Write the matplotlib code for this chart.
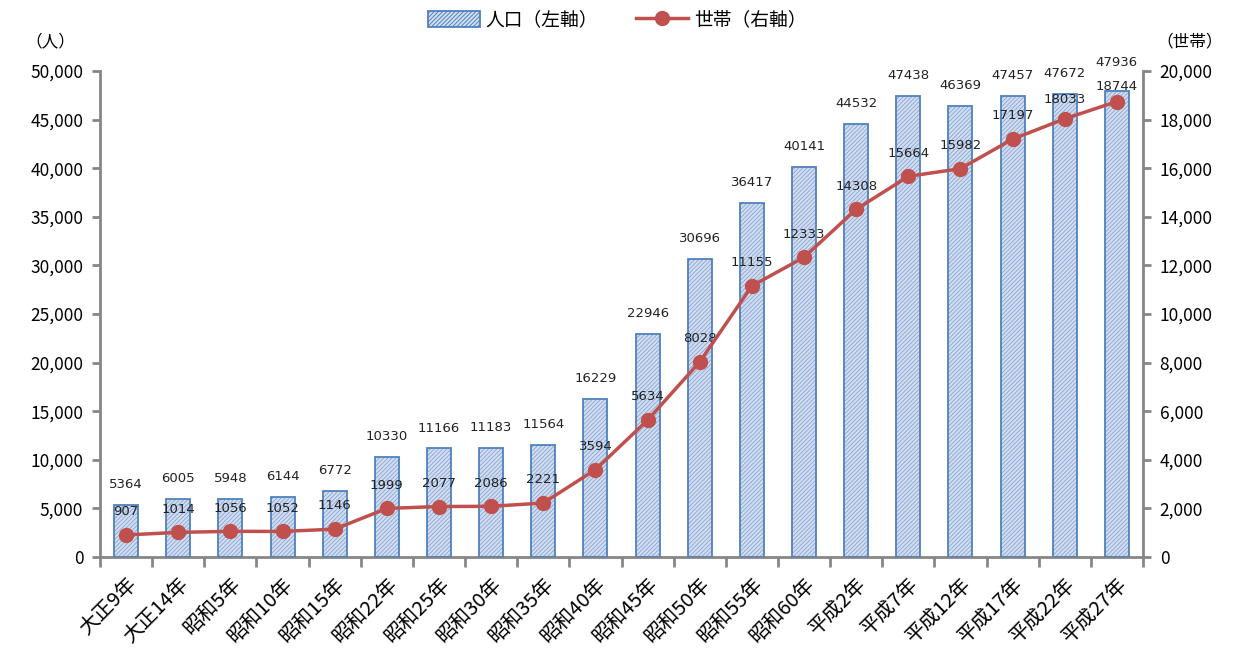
import matplotlib
matplotlib.use("Agg")
import matplotlib.pyplot as plt
import numpy as np
from matplotlib.patches import Patch
from matplotlib.lines import Line2D
from matplotlib.ticker import FuncFormatter, MultipleLocator, FixedLocator

plt.rcParams['font.family'] = ['Noto Sans CJK JP', 'DejaVu Sans']
plt.rcParams['hatch.linewidth'] = 0.7

categories = ["大正9年", "大正14年", "昭和5年", "昭和10年", "昭和15年", "昭和22年", "昭和25年",
              "昭和30年", "昭和35年", "昭和40年", "昭和45年", "昭和50年", "昭和55年", "昭和60年",
              "平成2年", "平成7年", "平成12年", "平成17年", "平成22年", "平成27年"]
population = [5364, 6005, 5948, 6144, 6772, 10330, 11166, 11183, 11564, 16229, 22946,
              30696, 36417, 40141, 44532, 47438, 46369, 47457, 47672, 47936]
households = [907, 1014, 1056, 1052, 1146, 1999, 2077, 2086, 2221, 3594, 5634,
              8028, 11155, 12333, 14308, 15664, 15982, 17197, 18033, 18744]

fig = plt.figure(figsize=(12.39, 6.57), dpi=100)
ax = fig.add_axes([100/1239, 1-557/657, 1043/1239, 486/657])
ax2 = ax.twinx()

x = np.arange(len(categories))
gray = '#868686'
bar_edge = '#4f81bd'
bar_face = '#d3dff0'
hatch_col = '#8fabd8'
line_col = '#c0504d'
num_font = ['DejaVu Sans']

ax.bar(x, population, width=0.46, color=bar_face, edgecolor=hatch_col, hatch='////////', linewidth=0, zorder=2)
ax.bar(x, population, width=0.46, fill=False, edgecolor=bar_edge, linewidth=1.3, zorder=3)

n = len(categories)
pop_off = [10] * n
pop_off[-1] = 16
hh_off = [12] * n
hh_off[-2] = 9
hh_off[-1] = 6

for xi, v, o in zip(x, population, pop_off):
    ax.annotate(str(v), (xi, v), xytext=(0, o), textcoords='offset points', ha='center', va='bottom',
                fontsize=9.5, color='#222222', family=num_font)

ax2.plot(x, households, color=line_col, lw=2.5, marker='o', markersize=10, zorder=4)
for xi, v, o in zip(x, households, hh_off):
    ax2.annotate(str(v), (xi, v), xytext=(0, o), textcoords='offset points', ha='center', va='bottom',
                 fontsize=9.5, color='#222222', family=num_font)

ax.set_xlim(-0.5, n - 0.5)
ax.set_ylim(0, 50000)
ax2.set_ylim(0, 20000)
ax.yaxis.set_major_locator(MultipleLocator(5000))
ax2.yaxis.set_major_locator(MultipleLocator(2000))
fmt = FuncFormatter(lambda v, p: f"{int(v):,}")
ax.yaxis.set_major_formatter(fmt)
ax2.yaxis.set_major_formatter(fmt)

ax.set_xticks(x)
ax.set_xticklabels(categories, rotation=45, ha='right', rotation_mode='anchor', fontsize=14.5)
ax.tick_params(axis='x', which='major', length=0, pad=12)
ax.xaxis.set_minor_locator(FixedLocator(np.arange(-0.5, n, 1.0)))
ax.tick_params(axis='x', which='minor', length=7, width=2, color=gray)

ax.tick_params(axis='y', length=6, width=2, color=gray, labelsize=12.5, pad=6)
ax2.tick_params(axis='y', length=6, width=2, color=gray, labelsize=12.5, pad=6)

for a in (ax, ax2):
    a.spines['top'].set_visible(False)
    for s in ('left', 'right', 'bottom'):
        a.spines[s].set_color(gray)
        a.spines[s].set_linewidth(2)
ax.spines['right'].set_visible(False)
ax2.spines['left'].set_visible(False)
ax2.spines['bottom'].set_visible(False)

fig.text(50/1239, 1-42/657, "（人）", ha='center', va='center', fontsize=12)
fig.text(1190/1239, 1-42/657, "（世帯）", ha='center', va='center', fontsize=12)

handles = [Patch(facecolor=bar_face, edgecolor=bar_edge, hatch='////////', linewidth=1.3),
           Line2D([0], [0], color=line_col, lw=2.5, marker='o', markersize=10)]
fig.legend(handles, ["人口（左軸）", "世帯（右軸）"], loc='center', bbox_to_anchor=(617/1239, 1-20/657),
           ncol=2, frameon=False, fontsize=13.5, handlelength=2.8, handleheight=0.9,
           columnspacing=2.0, handletextpad=0.3)

fig.savefig("out.png", dpi=100)
